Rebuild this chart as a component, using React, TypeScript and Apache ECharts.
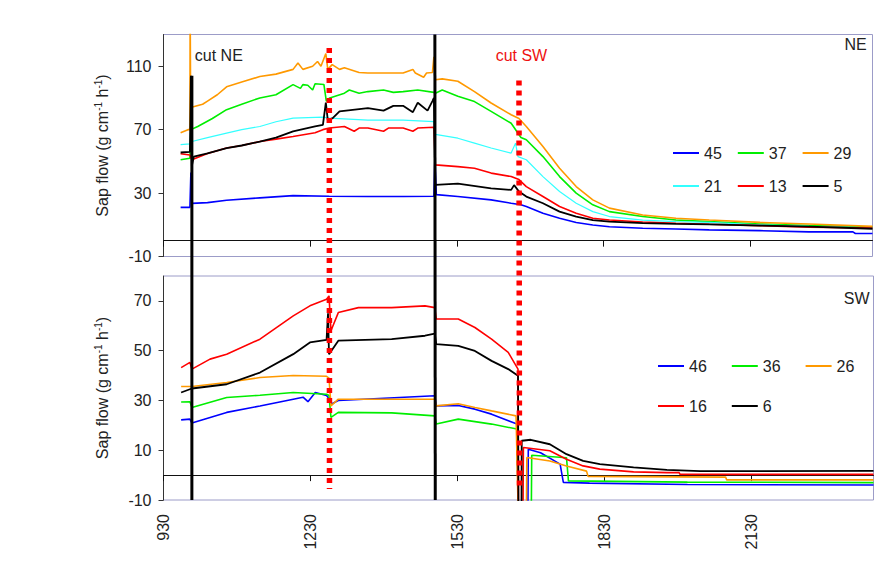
import React, { useEffect, useRef } from 'react';
import * as echarts from 'echarts';

// ---- axis ticks ----
const xTicks = [930, 1230, 1530, 1830, 2130];
const yTicksNE = [-10, 30, 70, 110];
const yTicksSW = [-10, 10, 30, 50, 70];

// ---- NE panel series: [time, sap flow] ----
const ne45 = [[965,21],[984,21],[986,43],[988,23.5],[1020,24],[1059,25.5],[1127,27],[1195,28.4],[1269,28],[1348,27.8],[1420,27.8],[1483,28],[1485,52],[1488,29],[1532,27.8],[1600,25.7],[1641,23.6],[1661,22.6],[1672,21.5],[1706,17.3],[1740,14.1],[1774,11.4],[1808,9.9],[1842,8.8],[1910,7.8],[1978,7.3],[2046,6.8],[2150,6.3],[2250,5.5],[2340,5.5],[2345,4.5],[2380,4.5]];
const ne37 = [[965,51],[984,52],[986,70],[1000,72],[1030,77],[1059,82.6],[1090,86],[1127,90],[1160,92],[1195,98.4],[1210,96],[1215,98.4],[1225,98],[1235,95],[1240,98.9],[1258,98.5],[1263,88],[1270,90],[1300,93],[1310,95],[1330,93],[1348,94],[1380,95],[1400,93.5],[1420,94],[1450,95],[1483,93.5],[1486,93],[1500,95],[1532,91],[1566,87.7],[1600,81.5],[1641,74],[1661,65],[1672,63.6],[1706,53],[1740,40.4],[1774,30],[1808,22.6],[1842,18.3],[1910,15.2],[1978,13],[2046,12],[2150,10.5],[2250,9.5],[2380,8.5]];
const ne29 = [[965,68],[980,70],[984,70],[984.5,150],[985.5,84],[1010,86],[1020,88],[1040,92],[1059,97],[1090,100],[1127,103.5],[1160,105],[1195,108],[1205,112],[1215,108],[1235,110],[1245,113],[1252,110],[1262,118],[1266,108],[1275,111],[1290,108],[1300,109],[1330,106],[1348,105.7],[1420,105.7],[1440,108],[1445,105.7],[1462,103],[1468,105.7],[1480,106],[1483,116],[1486,101.5],[1500,102],[1532,100.5],[1566,94],[1600,86.8],[1641,79.4],[1657,77],[1672,72],[1706,59.4],[1740,45.7],[1774,34.1],[1808,25.7],[1842,20.5],[1910,16.2],[1978,14.1],[2046,13],[2150,11.5],[2250,10.5],[2380,9]];
const ne21 = [[965,60.5],[984,61],[988,62.5],[1020,65],[1059,67.8],[1090,70],[1127,72],[1160,75],[1195,77.3],[1256,77.9],[1269,77.3],[1348,76],[1420,76],[1483,75],[1486,67],[1532,64.6],[1566,61.5],[1600,58.4],[1641,55.2],[1650,61.5],[1655,53],[1672,51],[1706,40.4],[1740,31],[1774,23.6],[1808,18.3],[1842,15.2],[1910,13],[1978,12],[2046,11.5],[2150,10],[2250,9],[2380,8]];
const ne13 = [[965,54.8],[984,54],[988,51],[1020,55],[1059,58.4],[1090,60],[1127,62.5],[1160,64],[1195,65.7],[1240,68],[1256,70],[1269,71],[1300,72],[1320,69],[1330,71],[1348,71],[1380,69],[1390,71],[1420,71],[1440,69],[1450,71],[1483,71.5],[1486,47.8],[1532,46.7],[1566,45.7],[1600,42.6],[1641,40.4],[1657,38.5],[1672,34.1],[1706,27.8],[1740,21.5],[1774,17.3],[1808,14.1],[1842,13],[1910,11.8],[1978,11],[2046,10.3],[2150,9.5],[2250,8.5],[2380,8]];
const ne5 = [[965,55.6],[984,56],[986,104],[988,47],[992,53],[1020,55],[1059,58.4],[1090,60],[1127,62.5],[1160,65],[1195,68.9],[1240,72],[1256,73],[1262,87],[1266,76],[1276,77.3],[1290,81.5],[1348,83.6],[1380,82],[1400,85],[1420,85],[1440,81],[1450,87],[1470,82],[1480,88],[1483,90],[1486,35.2],[1532,36],[1600,33],[1641,32],[1647,35],[1657,31],[1672,27.8],[1706,23.6],[1740,18.3],[1774,15.2],[1808,13],[1842,12],[1910,11],[1978,10.6],[2046,10.3],[2150,9.5],[2250,8.8],[2380,7.5]];

// ---- SW panel series ----
const sw46 = [[966,22.2],[984,22.5],[988,20.9],[1059,25.2],[1127,27.8],[1195,30.5],[1215,31.3],[1225,29.5],[1240,33.2],[1263,32],[1267,31],[1272,28.5],[1287,30],[1484,31.9],[1487,27.8],[1532,28],[1566,26.5],[1600,24.5],[1652,20.5],[1655,-20],[1674,-20],[1675,10.4],[1700,9],[1740,4.4],[1746.6,-2.9],[1800,-3.2],[2000,-3.8],[2380,-4]];
const sw36 = [[966,29.4],[984,29.5],[988,27.2],[1059,31.2],[1127,32.1],[1195,33.2],[1263,32.5],[1268,32],[1272,23.2],[1287,25.2],[1396,25],[1484,23.8],[1487,20.5],[1532,22.5],[1600,20.5],[1652,18.5],[1655,-20],[1681,-20],[1682,8],[1753,7],[1757,-2.3],[2000,-2.8],[2380,-3]];
const sw26 = [[966,35.6],[988,35.6],[1059,37.2],[1127,39.2],[1195,40],[1263,39.7],[1268,39],[1272,27.8],[1287,30.5],[1484,30.5],[1487,27.8],[1532,28.7],[1566,27.2],[1600,25.8],[1650,23.8],[1655,-20],[1671,-20],[1672,7.1],[1719,5.7],[1753,3.7],[1794,1.6],[1797,-0.5],[2078,-0.8],[2080,-1.9],[2380,-1.9]];
const sw16 = [[966,43.2],[984,45.3],[988,42.6],[1025,46.6],[1059,48.6],[1127,54.6],[1195,64],[1229,68],[1263,70.7],[1268,72],[1272,58],[1287,65.3],[1328,67.3],[1396,67.3],[1464,68],[1484,67.3],[1487,62.7],[1532,62.7],[1566,59.3],[1600,54.6],[1634,49.3],[1654,42.6],[1655,-20],[1664,-20],[1665,11.1],[1719,9.8],[1753,6.4],[1787,3.7],[1821,2.4],[1890,1.3],[1958,1],[1983,1],[1985,0.3],[2380,0.3]];
const sw6 = [[966,33.2],[988,34.8],[1059,36.5],[1127,41.2],[1195,48.6],[1229,53.3],[1263,54.3],[1266,65],[1268,48.6],[1280,52],[1287,54],[1396,54.6],[1464,56],[1484,56.8],[1487,52.6],[1532,51.9],[1566,49.9],[1600,45.9],[1634,42.6],[1654,39.9],[1655,-20],[1661,-20],[1661.6,13.8],[1680,14.2],[1719,12.4],[1753,8.4],[1787,5.7],[1821,4.4],[1890,3.1],[1958,2.1],[2026,1.6],[2380,1.7]];

// ---- cut markers ----
const cutTimes = [988, 1485, 1269, 1657];
const cutTopValues = [104, 130, 121.5, 101];
const cutBottomValues = [-10, -10, -5.6, -5.6];
const cutKinds = ['solid', 'solid', 'dotted', 'dotted'];

const FONT = 'Liberation Sans, Arial, sans-serif';

export default function App() {
  const ref = useRef<HTMLDivElement>(null);
  useEffect(() => {
    if (!ref.current) return;
    const chart = echarts.init(ref.current, null, { renderer: 'svg' });
    const border = '#9c9cc8';
    const textColor = '#222';
    const mkLine = (name: string, data: number[][], color: string, idx: number, width = 1.6) => ({
      name, type: 'line', data, xAxisIndex: idx, yAxisIndex: idx, showSymbol: false, symbol: 'none',
      lineStyle: { color, width }, itemStyle: { color }, clip: true,
    });
    const sapName = 'Sap flow (g cm{sup|-1} h{sup|-1})';
    const nameStyle = {
      fontSize: 16, color: textColor, fontFamily: FONT,
      rich: { sup: { fontSize: 10, fontFamily: FONT, color: textColor, padding: [0, 0, 8, 0] } },
    };
    const plain = (v: number) => String(v);
    const yAxisBase = (gi: number, min: number, max: number, ticks: number[]) => ({
      type: 'value', gridIndex: gi, min, max,
      axisLine: { show: true, onZero: false, lineStyle: { color: '#333', width: 1 } },
      axisTick: { show: true, length: 5, customValues: ticks, lineStyle: { color: '#333' } },
      axisLabel: { customValues: ticks, formatter: plain, fontSize: 16, color: textColor, fontFamily: FONT, margin: 12 },
      splitLine: { show: false },
      name: sapName, nameLocation: 'middle', nameGap: 52, nameTextStyle: nameStyle,
    });
    const zeroAxis = (gi: number) => ({
      type: 'value', gridIndex: gi, min: 930, max: 2380, position: 'bottom',
      axisLine: { show: true, onZero: true, lineStyle: { color: '#111', width: 1 } },
      axisTick: { show: true, inside: false, length: 6, customValues: xTicks, lineStyle: { color: '#111' } },
      axisLabel: { show: false },
      splitLine: { show: false },
    });
    const legendBase = (data: string[], left: number, top: number, gap: number) => ({
      data, left, top, orient: 'horizontal', icon: 'rect', itemWidth: 26, itemHeight: 2,
      itemGap: gap, padding: 0, selectedMode: false,
      textStyle: { fontSize: 16, color: textColor, fontFamily: FONT },
    });
    const option: any = {
      animation: false,
      backgroundColor: '#fff',
      grid: [
        { left: 163.5, top: 34.5, width: 709, height: 222, show: true, borderColor: border, borderWidth: 1, backgroundColor: 'transparent' },
        { left: 163.5, top: 276, width: 710, height: 224, show: true, borderColor: border, borderWidth: 1, backgroundColor: 'transparent' },
      ],
      xAxis: [
        zeroAxis(0),
        zeroAxis(1),
        {
          type: 'value', gridIndex: 1, min: 930, max: 2380, position: 'bottom',
          axisLine: { show: false, onZero: false }, axisTick: { show: false },
          axisLabel: { customValues: xTicks, formatter: plain, rotate: 90, margin: 14, fontSize: 16, color: textColor, fontFamily: FONT },
          splitLine: { show: false },
        },
      ],
      yAxis: [yAxisBase(0, -10, 130, yTicksNE), yAxisBase(1, -10, 80, yTicksSW)],
      legend: [
        legendBase(['45', '37', '29'], 673, 145, 16),
        legendBase(['21', '13', '5'], 673, 178, 16),
        legendBase(['46', '36', '26'], 658, 358, 25),
        legendBase(['16', '6'], 658, 398, 25),
      ],
      series: [
        mkLine('45', ne45, '#0000ff', 0),
        mkLine('37', ne37, '#00ee00', 0),
        mkLine('29', ne29, '#ff9900', 0),
        mkLine('21', ne21, '#33ffff', 0, 1.2),
        mkLine('13', ne13, '#ff0000', 0),
        mkLine('5', ne5, '#000000', 0, 1.8),
        mkLine('46', sw46, '#0000ff', 1),
        mkLine('36', sw36, '#00ee00', 1),
        mkLine('26', sw26, '#ff9900', 1),
        mkLine('16', sw16, '#ff0000', 1),
        mkLine('6', sw6, '#000000', 1, 1.8),
      ],
    };
    chart.setOption(option);

    const graphics: any[] = [];
    cutTimes.forEach((t, i) => {
      const a = chart.convertToPixel({ gridIndex: 0 } as any, [t, cutTopValues[i]]) as number[];
      const b = chart.convertToPixel({ gridIndex: 1 } as any, [t, cutBottomValues[i]]) as number[];
      const dotted = cutKinds[i] === 'dotted';
      graphics.push({
        type: 'line', z: 100, silent: true,
        shape: { x1: a[0], y1: a[1], x2: b[0], y2: b[1] },
        style: dotted
          ? { stroke: '#ff0000', lineWidth: 5.5, lineDash: [5, 5], lineCap: 'butt' }
          : { stroke: '#000', lineWidth: 3 },
      });
    });
    const pNE = chart.convertToPixel({ gridIndex: 0 } as any, [994, 116.5]) as number[];
    const pSW = chart.convertToPixel({ gridIndex: 0 } as any, [1662, 116.5]) as number[];
    const pNElabel = chart.convertToPixel({ gridIndex: 0 } as any, [2368, 123.5]) as number[];
    const pSWlabel = chart.convertToPixel({ gridIndex: 1 } as any, [2372, 71]) as number[];
    graphics.push(
      { type: 'text', z: 101, x: pNE[0], y: pNE[1], style: { text: 'cut NE', fontSize: 16, fontFamily: FONT, fill: textColor, textAlign: 'left', textVerticalAlign: 'middle' } },
      { type: 'text', z: 101, x: pSW[0], y: pSW[1], style: { text: 'cut SW', fontSize: 16, fontFamily: FONT, fill: '#ee1111', textAlign: 'center', textVerticalAlign: 'middle' } },
      { type: 'text', z: 101, x: pNElabel[0], y: pNElabel[1], style: { text: 'NE', fontSize: 16, fontFamily: FONT, fill: textColor, textAlign: 'right', textVerticalAlign: 'middle' } },
      { type: 'text', z: 101, x: pSWlabel[0], y: pSWlabel[1], style: { text: 'SW', fontSize: 16, fontFamily: FONT, fill: textColor, textAlign: 'right', textVerticalAlign: 'middle' } },
    );
    chart.setOption({ graphic: graphics });

    return () => chart.dispose();
  }, []);
  return <div ref={ref} style={{ position: 'fixed', left: 0, top: 0, width: 893, height: 572 }} />;
}
